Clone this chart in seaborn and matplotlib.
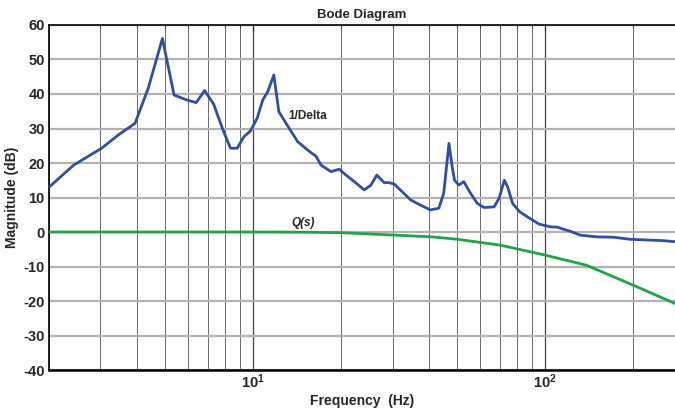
import numpy as np
import pandas as pd
import matplotlib
matplotlib.use("Agg")
import matplotlib.pyplot as plt
import matplotlib.ticker as mticker
import seaborn as sns

# ---- data ----
delta_freq = [2.0, 2.43, 3.03, 3.45, 3.94, 4.37, 4.89, 5.36, 5.91, 6.38, 6.82, 7.32,
              7.88, 8.36, 8.82, 9.29, 9.79, 10.32, 10.79, 11.22, 11.77, 12.24, 12.96,
              14.2, 15.0, 15.77, 16.4, 17.07, 18.47, 19.7, 20.8, 22.2, 24.0, 25.3, 26.5,
              28.1, 29.2, 30.4, 31.9, 34.6, 37.4, 40.4, 43.2, 44.9, 46.8, 48.0, 48.9,
              50.6, 52.6, 55.5, 58.5, 61.7, 66.8, 69.5, 72.4, 74.3, 77.3, 81.6, 87.2,
              95.2, 104.2, 110.0, 115.6, 122.0, 131.6, 150, 171, 194.8, 222, 253, 278]
delta_mag = [13.0, 19.4, 24.3, 28.1, 31.5, 41.6, 56.1, 39.7, 38.3, 37.5, 41.0, 37.1,
             29.6, 24.3, 24.3, 27.6, 29.3, 33.0, 38.3, 40.7, 45.5, 34.9, 31.5,
             26.2, 24.5, 23.0, 22.0, 19.4, 17.5, 18.2, 16.5, 14.6, 12.2, 13.6, 16.5,
             14.3, 14.3, 13.9, 12.2, 9.3, 7.8, 6.4, 6.9, 11.2, 25.7, 18.9, 15.0,
             13.6, 14.6, 11.2, 8.3, 7.1, 7.3, 9.8, 15.0, 13.1, 8.3, 5.9, 4.3,
             2.3, 1.5, 1.4, 0.8, 0.2, -0.9, -1.4, -1.5, -2.1, -2.3, -2.5, -2.8]

q_freq = [2.0, 5.0, 10.0, 15.0, 20.1, 30.0, 40.8, 50.0, 70.1, 100.0, 138.0, 200.0, 278.0]
q_mag = [0.0, 0.0, 0.0, -0.05, -0.2, -0.87, -1.4, -2.1, -3.8, -6.7, -9.6, -15.4, -20.7]

y_ticks = [-40, -30, -20, -10, 0, 10, 20, 30, 40, 50, 60]

sns.set_style("white")
plt.rcParams['font.family'] = ['Liberation Sans', 'DejaVu Sans']
plt.rcParams['axes.unicode_minus'] = False

fig = plt.figure(figsize=(6.75, 4.13), dpi=100)
ax = fig.add_axes([0.0726, 0.104, 0.9274, 0.8355])

df_d = pd.DataFrame({"f": delta_freq, "m": delta_mag})
df_q = pd.DataFrame({"f": q_freq, "m": q_mag})

ax.set_xscale("log")
ax.set_xlim(2.0, 278)
ax.set_ylim(-40, 60)

# grid
ax.set_yticks(y_ticks)
ax.xaxis.set_major_locator(mticker.LogLocator(base=10, numticks=10))
ax.xaxis.set_minor_locator(mticker.LogLocator(base=10, subs=np.arange(2, 10), numticks=20))
ax.xaxis.set_minor_formatter(mticker.NullFormatter())
ax.grid(True, axis="y", which="major", color="#b3b3b3", lw=1.6, zorder=0)
ax.grid(True, axis="x", which="major", color="#444444", lw=0.9, zorder=0)
ax.grid(True, axis="x", which="minor", color="#6a6a6a", lw=0.7, zorder=0)
ax.set_axisbelow(True)

sns.lineplot(data=df_q, x="f", y="m", ax=ax, color="#1fa547", lw=2.0,
             sort=False, estimator=None, zorder=3)
sns.lineplot(data=df_d, x="f", y="m", ax=ax, color="#2f4fa3", lw=2.0,
             sort=False, estimator=None, zorder=4)

ax.tick_params(axis="both", which="both", direction="in", top=True, right=False)
ax.tick_params(axis="both", which="major", length=4, width=0.8, labelsize=10.5, pad=3)
ax.tick_params(axis="x", which="major", pad=2)
ax.tick_params(axis="x", which="minor", length=2.5, width=0.6)
for lab in ax.get_xticklabels() + ax.get_yticklabels():
    lab.set_fontweight("bold")

for s in ["left", "bottom", "top"]:
    ax.spines[s].set_visible(True)
    ax.spines[s].set_color("black")
    ax.spines[s].set_linewidth(1.2)
ax.spines["bottom"].set_linewidth(1.8)
ax.spines["right"].set_visible(False)

ax.set_title("Bode Diagram", fontsize=9.5, fontweight="bold", pad=5)
ax.set_xlabel("Frequency  (Hz)", fontsize=10, fontweight="bold", labelpad=2)
ax.set_ylabel("Magnitude (dB)", fontsize=10, fontweight="bold", labelpad=3)

ax.text(13.2, 33.5, "1/Delta", fontsize=8.5, fontweight="bold", ha="left", va="center")
ax.text(13.5, 2.5, "Q(s)", fontsize=8.5, fontweight="bold", fontstyle="italic",
        ha="left", va="center")

fig.savefig("out.png", dpi=100)
